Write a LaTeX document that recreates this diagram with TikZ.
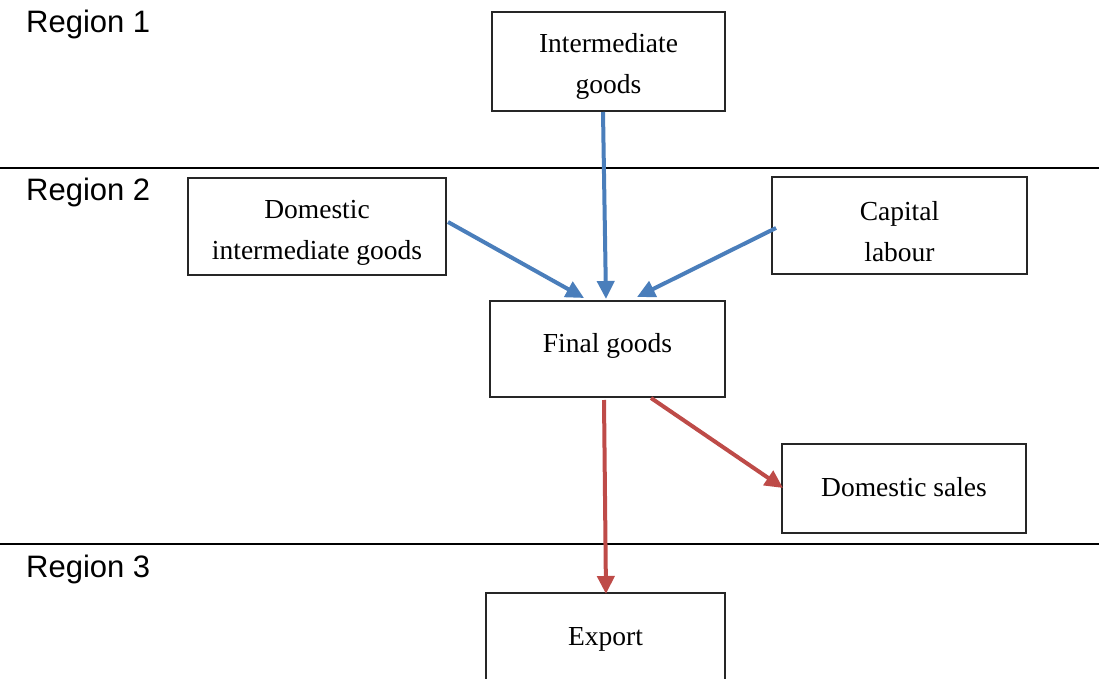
\documentclass[tikz,border=0pt]{standalone}
\usepackage{fontspec}
\setmainfont{Liberation Serif}
\newfontfamily\regfont{Liberation Sans}
\usetikzlibrary{arrows.meta}
\definecolor{flowblue}{HTML}{4A7EBB}
\definecolor{flowred}{HTML}{BE4B48}
\tikzset{
  box/.style={draw=black!85, line width=1.3pt, align=center, inner sep=0pt,
    font=\fontsize{27.5}{41}\selectfont},
  reg/.style={anchor=west, inner sep=0pt, font=\regfont\fontsize{31}{36}\selectfont},
  sep/.style={line width=1.6pt, black},
  bluearr/.style={draw=flowblue, line width=4pt, -{Triangle[length=18pt,width=17pt]}},
  redarr/.style={draw=flowred, line width=4pt, -{Triangle[length=18pt,width=17pt]}}
}
\begin{document}
\begin{tikzpicture}[x=1pt,y=-1pt]
\useasboundingbox (0,0) rectangle (1099,679);
\clip (0,0) rectangle (1099,679);
% region lines
\coordinate (l1a) at (0,168);
\coordinate (l1b) at (1099,168);
\coordinate (l2a) at (0,544);
\coordinate (l2b) at (1099,544);
\draw[sep] (l1a) -- (l1b);
\draw[sep] (l2a) -- (l2b);
% region labels
\node[reg] (r1) at (26,24) {Region 1};
\node[reg] (r2) at (26,192) {Region 2};
\node[reg] (r3) at (26,569) {Region 3};
% boxes
\node[box, minimum width=233pt, minimum height=99pt] (ig) at (608.5,61.5) {};
\node[box, draw=none] (igt) at (608.5,66) {Intermediate\\goods};
\node[box, minimum width=258pt, minimum height=97pt] (dig) at (317,226.5) {};
\node[box, draw=none] (digt) at (317,233) {Domestic\\intermediate goods};
\node[box, minimum width=255pt, minimum height=97pt] (cl) at (899.5,225.5) {};
\node[box, draw=none] (clt) at (899.5,232) {Capital\\labour};
\node[box, minimum width=235pt, minimum height=96pt] (fg) at (607.5,349) {};
\node[box, draw=none] (fgt) at (607.5,346) {Final goods};
\node[box, minimum width=244pt, minimum height=89pt] (ds) at (904,488.5) {};
\node[box, draw=none] (dst) at (904,487) {Domestic sales};
\node[box, minimum width=239pt, minimum height=120pt] (ex) at (605.5,653) {};
\node[box, draw=none] (ext) at (605.5,639) {Export};
% arrows
\coordinate (a1s) at (603,112);
\coordinate (a1e) at (606,299);
\coordinate (a2s) at (448,222);
\coordinate (a2e) at (584,298);
\coordinate (a3s) at (776,228);
\coordinate (a3e) at (637,297);
\coordinate (a4s) at (604,400);
\coordinate (a4e) at (606,594);
\coordinate (a5s) at (651,398);
\coordinate (a5e) at (783,488);
\draw[bluearr] (a1s) -- (a1e);
\draw[bluearr] (a2s) -- (a2e);
\draw[bluearr] (a3s) -- (a3e);
\draw[redarr] (a4s) -- (a4e);
\draw[redarr] (a5s) -- (a5e);
\end{tikzpicture}
\end{document}
